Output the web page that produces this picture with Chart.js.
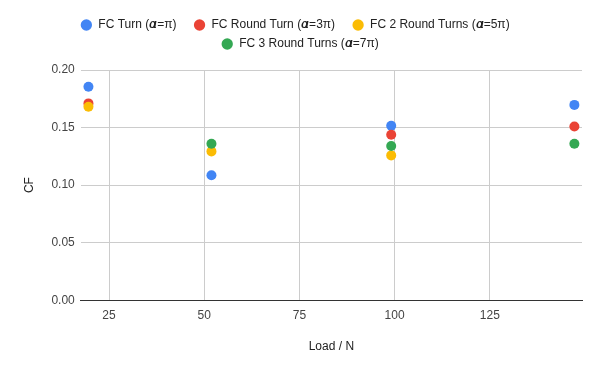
<!DOCTYPE html>
<html><head><meta charset="utf-8">
<script src="https://cdn.jsdelivr.net/npm/chart.js@4/dist/chart.umd.min.js"></script>
<style>html,body{margin:0;padding:0;background:#fff}#w{width:600px;height:371px;position:relative}</style>
</head><body><div id="w"><canvas id="c"></canvas></div>
<script>
const loads = [19.6, 51.9, 99.1, 147.2];
const seriesNames = ["FC Turn (𝜶=π)", "FC Round Turn (𝜶=3π)", "FC 2 Round Turns (𝜶=5π)", "FC 3 Round Turns (𝜶=7π)"];
const fcTurn = [0.1855, 0.1085, 0.1515, 0.1697];
const fcRound1 = [0.171, null, 0.1437, 0.1509];
const fcRound2 = [0.168, 0.1293, 0.1258, null];
const fcRound3 = [null, 0.136, 0.1339, 0.1359];
const xTicks = [25, 50, 75, 100, 125];
const yTicks = [0, 0.05, 0.10, 0.15, 0.20];
const colors = ["#4285F4", "#EA4335", "#FBBC04", "#34A853"];
const allSeries = [fcTurn, fcRound1, fcRound2, fcRound3];

Chart.defaults.font.family = "Arial, 'Liberation Sans', sans-serif";
const datasets = allSeries.map((vals, i) => ({
  label: seriesNames[i],
  data: loads.map((x, j) => ({x: x, y: vals[j]})).filter(p => p.y !== null),
  backgroundColor: colors[i],
  borderColor: colors[i],
  pointRadius: 5,
  pointHoverRadius: 5,
  borderWidth: 0,
  showLine: false,
  order: 3 - i
}));

const legendGap = {
  id: 'legendGap',
  beforeInit(chart) {
    const fit = chart.legend.fit;
    chart.legend.fit = function () { fit.call(this); this.height += 10; };
  }
};

new Chart(document.getElementById('c'), {
  type: 'scatter',
  data: { datasets },
  plugins: [legendGap],
  options: {
    responsive: true, maintainAspectRatio: false, animation: false,
    layout: { padding: { left: 18, right: 18, top: 12, bottom: 17 } },
    plugins: {
      tooltip: { enabled: false },
      legend: {
        position: 'top',
        labels: {
          usePointStyle: true, pointStyle: 'circle', boxWidth: 12, boxHeight: 8,
          color: '#222', font: { size: 12 }, padding: 7,
          sort: (a, b) => a.datasetIndex - b.datasetIndex,
          generateLabels: (chart) => {
            const items = Chart.defaults.plugins.legend.labels.generateLabels(chart);
            items.forEach(it => { if (it.datasetIndex < 3) it.text = it.text + '   '; it.lineWidth = 0; });
            return items;
          }
        }
      }
    },
    scales: {
      x: {
        type: 'linear', min: 17.58, max: 149.2,
        afterBuildTicks: s => { s.ticks = xTicks.map(v => ({value: v})); },
        grid: { color: '#cccccc', drawTicks: false },
        border: { color: '#333333', width: 1 },
        ticks: { color: '#444', font: { size: 12 }, padding: 8 },
        title: { display: true, text: 'Load / N', color: '#222', font: { size: 12 }, padding: { top: 9, bottom: 0 } }
      },
      y: {
        min: 0, max: 0.2,
        afterBuildTicks: s => { s.ticks = yTicks.map(v => ({value: v})); },
        grid: { color: '#cccccc', drawTicks: false },
        border: { display: false },
        ticks: { color: '#444', font: { size: 12 }, padding: 6, callback: v => v.toFixed(2) },
        title: { display: true, text: 'CF', color: '#222', font: { size: 12 }, padding: { bottom: 9 } }
      }
    }
  }
});
</script></body></html>
